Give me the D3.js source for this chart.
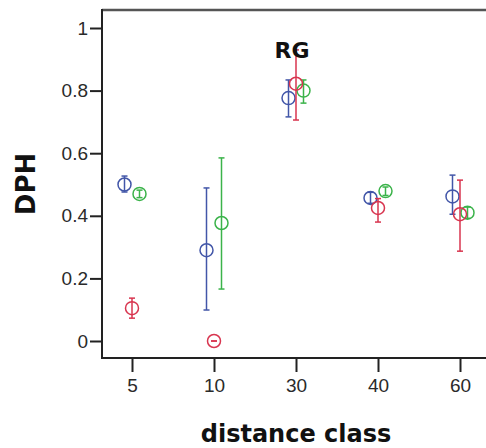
<!DOCTYPE html>
<html>
<head>
<meta charset="utf-8">
<script src="https://cdn.jsdelivr.net/npm/d3@7"></script>
<style>
  body { margin: 0; background: #fff; }
  svg { display: block; }
</style>
</head>
<body>
<svg></svg>
<script>
// categories on the x axis
let categories = ["5", "10", "30", "40", "60"];
let yTicks = [0, 0.2, 0.4, 0.6, 0.8, 1];

// three groups: mean, lower and upper error bound
let blueMean  = [0.50, 0.29, 0.776, 0.457, 0.462];
let blueLow   = [0.476, 0.099, 0.716, 0.44, 0.405];
let blueHigh  = [0.527, 0.489, 0.834, 0.475, 0.53];

let redMean   = [0.105, 0.0, 0.822, 0.425, 0.405];
let redLow    = [0.073, 0.0, 0.706, 0.38, 0.287];
let redHigh   = [0.137, 0.0, 0.93, 0.455, 0.514];

let greenMean = [0.47, 0.377, 0.80, 0.479, 0.41];
let greenLow  = [0.458, 0.166, 0.76, 0.465, 0.392];
let greenHigh = [0.482, 0.585, 0.834, 0.492, 0.428];

let width = 486;
let height = 448;

let svg = d3.select("svg")
  .attr("width", width)
  .attr("height", height);

let xScale = d3.scalePoint()
  .domain(categories)
  .range([132, 460]);

let yScale = d3.scaleLinear()
  .domain([0, 1])
  .range([341, 28]);

// frame lines
let frameLeft = 102, frameTop = 10, frameBottom = 358;
svg.append("line")
  .attr("x1", frameLeft).attr("x2", width)
  .attr("y1", frameTop).attr("y2", frameTop)
  .attr("stroke", "#555").attr("stroke-width", 2.5);
svg.append("line")
  .attr("x1", frameLeft).attr("x2", width)
  .attr("y1", frameBottom).attr("y2", frameBottom)
  .attr("stroke", "#222").attr("stroke-width", 2);
svg.append("line")
  .attr("x1", frameLeft).attr("x2", frameLeft)
  .attr("y1", frameTop - 1).attr("y2", frameBottom + 1)
  .attr("stroke", "#222").attr("stroke-width", 2);

// axes
let yAxis = d3.axisLeft(yScale)
  .tickValues(yTicks)
  .tickFormat(d => d === 0 || d === 1 ? String(d) : d3.format(".1f")(d))
  .tickSize(12)
  .tickPadding(2);

let gy = svg.append("g")
  .attr("transform", "translate(" + frameLeft + ",0)")
  .call(yAxis);

let xAxis = d3.axisBottom(xScale)
  .tickSize(14)
  .tickPadding(7);

let gx = svg.append("g")
  .attr("transform", "translate(0," + frameBottom + ")")
  .call(xAxis);

[gx, gy].forEach(g => {
  g.select(".domain").remove();
  g.selectAll(".tick line").attr("stroke", "#222").attr("stroke-width", 2);
  g.selectAll(".tick text")
    .attr("fill", "#2a2a2a")
    .style("font-family", "'Liberation Sans', Arial, sans-serif")
    .style("font-size", "19px");
});

// error bars and circles for each group
let groups = [
  { mean: blueMean,  low: blueLow,  high: blueHigh,  color: "#4256a8", dx: -7.5 },
  { mean: greenMean, low: greenLow, high: greenHigh, color: "#3bb34a", dx: 7.5 },
  { mean: redMean,   low: redLow,   high: redHigh,   color: "#d8354f", dx: 0 }
];

groups.forEach(grp => {
  let rows = categories.map((c, i) => ({
    cat: c, mean: grp.mean[i], low: grp.low[i], high: grp.high[i]
  }));
  let g = svg.append("g")
    .attr("stroke", grp.color)
    .attr("fill", "none")
    .attr("stroke-width", 1.5);

  g.selectAll(".bar")
    .data(rows)
    .enter()
    .append("line")
    .attr("x1", d => xScale(d.cat) + grp.dx)
    .attr("x2", d => xScale(d.cat) + grp.dx)
    .attr("y1", d => yScale(d.low))
    .attr("y2", d => yScale(d.high));

  ["low", "high"].forEach(k => {
    g.selectAll(".cap-" + k)
      .data(rows)
      .enter()
      .append("line")
      .attr("x1", d => xScale(d.cat) + grp.dx - 3)
      .attr("x2", d => xScale(d.cat) + grp.dx + 3)
      .attr("y1", d => yScale(d[k]))
      .attr("y2", d => yScale(d[k]));
  });

  g.selectAll("circle")
    .data(rows)
    .enter()
    .append("circle")
    .attr("cx", d => xScale(d.cat) + grp.dx)
    .attr("cy", d => yScale(d.mean))
    .attr("r", 6.5);
});

// annotation
svg.append("text")
  .attr("x", 292)
  .attr("y", 58)
  .attr("text-anchor", "middle")
  .style("font-family", "'DejaVu Sans', sans-serif")
  .style("font-weight", "bold")
  .style("font-size", "22px")
  .attr("fill", "#111")
  .text("RG");

// axis titles
svg.append("text")
  .attr("x", 296)
  .attr("y", 442)
  .attr("text-anchor", "middle")
  .style("font-family", "'DejaVu Sans', sans-serif")
  .style("font-weight", "bold")
  .style("font-size", "24px")
  .attr("fill", "#111")
  .text("distance class");

svg.append("text")
  .attr("transform", "translate(35,184) rotate(-90)")
  .attr("text-anchor", "middle")
  .style("font-family", "'DejaVu Sans', sans-serif")
  .style("font-weight", "bold")
  .style("font-size", "26px")
  .attr("fill", "#111")
  .text("DPH");
</script>
</body>
</html>
